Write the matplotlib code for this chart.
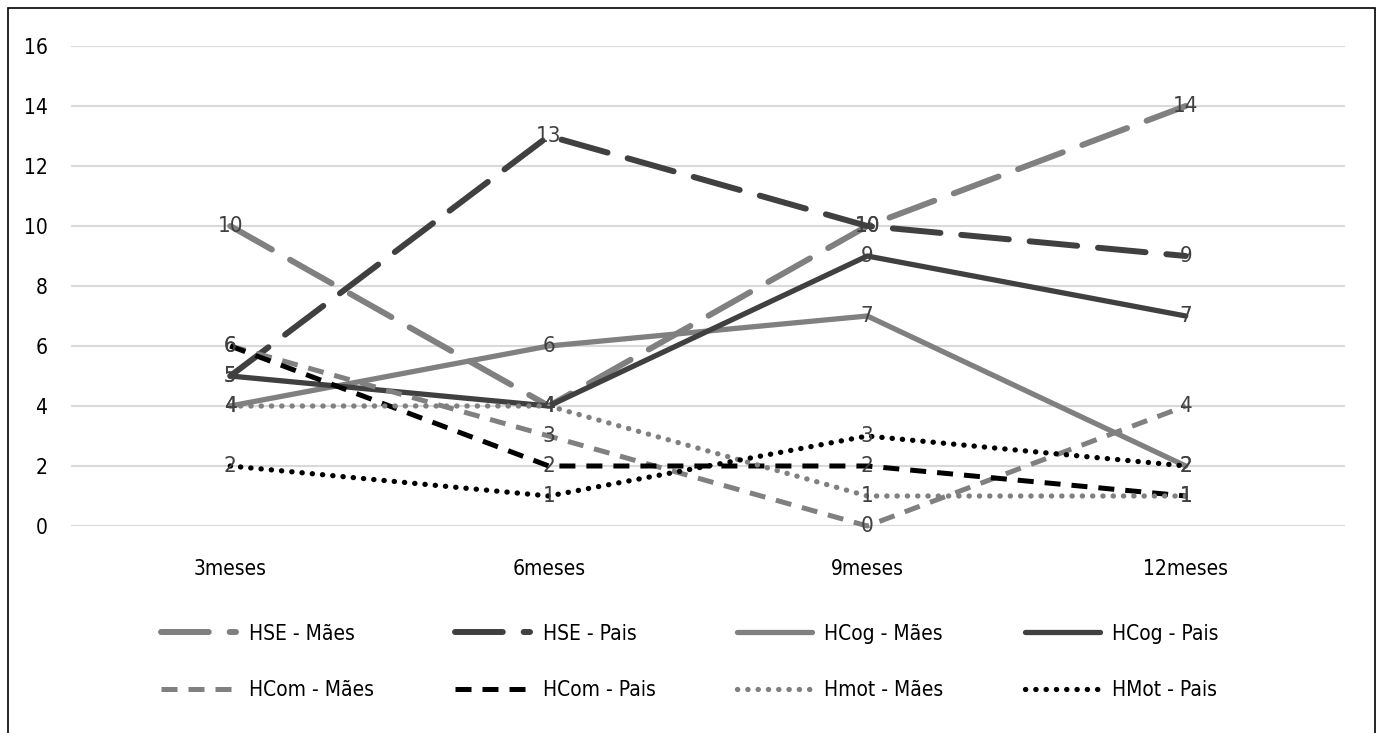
import matplotlib
matplotlib.use("Agg")
import matplotlib.pyplot as plt
from matplotlib.patches import Rectangle

categories = ["3meses", "6meses", "9meses", "12meses"]
series_names = ["HSE - Mães", "HSE - Pais", "HCog - Mães", "HCog - Pais",
                "HCom - Mães", "HCom - Pais", "Hmot - Mães", "HMot - Pais"]
hse_maes = [10, 4, 10, 14]
hse_pais = [5, 13, 10, 9]
hcog_maes = [4, 6, 7, 2]
hcog_pais = [5, 4, 9, 7]
hcom_maes = [6, 3, 0, 4]
hcom_pais = [6, 2, 2, 1]
hmot_maes = [4, 4, 1, 1]
hmot_pais = [2, 1, 3, 2]
yticks = [0, 2, 4, 6, 8, 10, 12, 14, 16]

values = [hse_maes, hse_pais, hcog_maes, hcog_pais, hcom_maes, hcom_pais, hmot_maes, hmot_pais]
GRAY = "#808080"
DARK = "#404040"
BLACK = "#000000"
styles = [
    dict(color=GRAY, lw=4.3, dashes=(8, 3.5), cap="round"),
    dict(color=DARK, lw=4.3, dashes=(8, 3.5), cap="round"),
    dict(color=GRAY, lw=3.8, dashes=None, cap="round"),
    dict(color=DARK, lw=3.8, dashes=None, cap="round"),
    dict(color=GRAY, lw=3.6, dashes=(3.2, 2.2), cap="butt"),
    dict(color=BLACK, lw=3.6, dashes=(3.2, 2.2), cap="butt"),
    dict(color=GRAY, lw=3.8, dashes=(0.05, 1.9), cap="round"),
    dict(color=BLACK, lw=3.8, dashes=(0.05, 1.9), cap="round"),
]

plt.rcParams['font.family'] = ['DejaVu Sans']
plt.rcParams['font.stretch'] = 'condensed'

fig = plt.figure(figsize=(13.8, 7.33), dpi=100)
W, H = 1380, 733
ax = fig.add_axes([71 / W, 1 - 526 / H, (1345 - 71) / W, (526 - 46) / H])

x = list(range(len(categories)))
for name, vals, st in zip(series_names, values, styles):
    ln, = ax.plot(x, vals, color=st["color"], lw=st["lw"], label=name, clip_on=False,
                  solid_capstyle="round", zorder=3)
    if st["dashes"] is not None:
        ln.set_dashes(st["dashes"])
        ln.set_dash_capstyle(st["cap"])
    for xi, v in zip(x, vals):
        ax.text(xi, v, str(v), ha="center", va="center", fontsize=16, color="#404040", zorder=4)

ax.set_xlim(-0.5, 3.5)
ax.set_ylim(0, 16)
ax.set_yticks(yticks)
ax.set_xticks(x)
ax.set_xticklabels(categories)
ax.tick_params(axis="both", length=0, labelsize=15, colors="#000000")
ax.tick_params(axis="y", pad=17)
ax.tick_params(axis="x", pad=24)
ax.grid(axis="y", color="#d9d9d9", lw=1.5, zorder=0)
for s in ax.spines.values():
    s.set_visible(False)
ax.set_facecolor("none")

handles, labels = ax.get_legend_handles_labels()
order = [0, 4, 1, 5, 2, 6, 3, 7]
leg = fig.legend([handles[i] for i in order], [labels[i] for i in order], loc="center", ncol=4,
                 bbox_to_anchor=(0.5, 1 - 662 / H),
                 frameon=False, fontsize=15, handlelength=3.6, columnspacing=3.9,
                 labelspacing=1.75, handletextpad=0.6)

fig.patches.append(Rectangle((8 / W, -0.05), (1375 - 8) / W, 1.05 - 8 / H, transform=fig.transFigure,
                             fill=False, edgecolor="#000000", lw=1.2))

fig.savefig("out.png", dpi=100, facecolor="white")
